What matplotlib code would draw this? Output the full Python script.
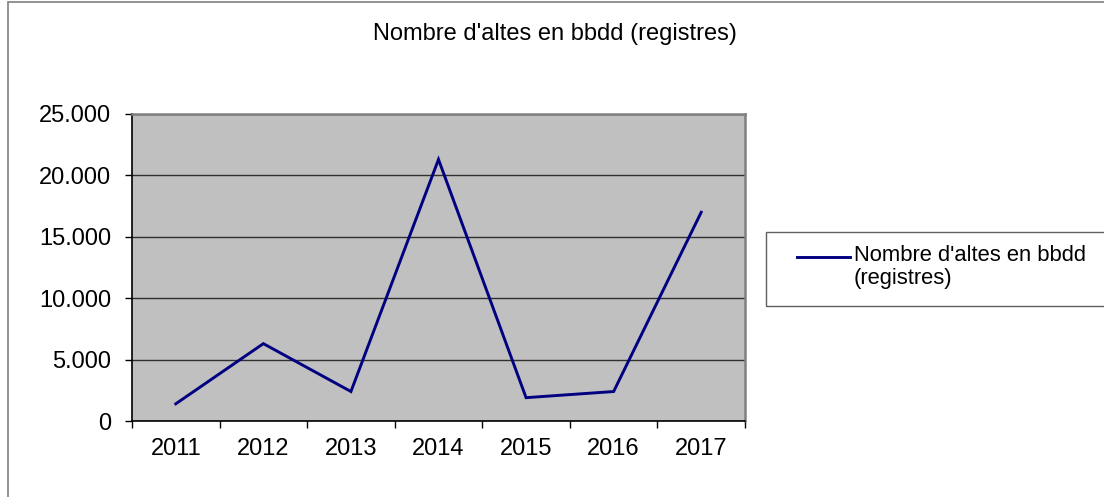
import matplotlib
matplotlib.use("Agg")
import matplotlib.pyplot as plt
from matplotlib.patches import Rectangle
from matplotlib.lines import Line2D

plt.rcParams['font.family'] = ['Liberation Sans', 'DejaVu Sans']

# data
years = ['2011', '2012', '2013', '2014', '2015', '2016', '2017']
altes = [1400, 6300, 2400, 21300, 1900, 2400, 17000]
y_ticks = [0, 5000, 10000, 15000, 20000, 25000]
y_labels = ['0', '5.000', '10.000', '15.000', '20.000', '25.000']
title = "Nombre d'altes en bbdd (registres)"
series_label = "Nombre d'altes en bbdd\n(registres)"

W, H = 1104, 497
fig = plt.figure(figsize=(W / 100, H / 100), dpi=100)
fs = 17

# outer chart frame
fig.patches.append(Rectangle((8 / W, -0.02), 1.1, 1 - 2 / H + 0.02, transform=fig.transFigure,
                             fill=False, edgecolor='#808080', linewidth=1.2))

ax = fig.add_axes([132 / W, (H - 421) / H, 613 / W, 307 / H])
ax.set_facecolor('#C0C0C0')

x = list(range(len(years)))
ax.plot(x, altes, color='#000080', linewidth=2.1, solid_joinstyle='miter')

ax.set_xlim(-0.5, len(years) - 0.5)
ax.set_ylim(0, 25000)
ax.set_yticks(y_ticks)
ax.set_yticklabels(y_labels, fontsize=fs)
ax.yaxis.grid(True, color='#303030', linewidth=1)
ax.set_axisbelow(True)

# category ticks on boundaries, labels in the middle
ax.set_xticks([i - 0.5 for i in range(len(years) + 1)])
ax.set_xticklabels([])
ax.set_xticks(x, minor=True)
ax.set_xticklabels(years, minor=True, fontsize=fs)
ax.tick_params(axis='x', which='major', direction='out', length=5, width=1, color='#000000')
ax.tick_params(axis='x', which='minor', length=0, pad=12)
ax.tick_params(axis='y', direction='out', length=5, width=1, pad=10)

for side in ['left', 'bottom']:
    ax.spines[side].set_color('#000000')
    ax.spines[side].set_linewidth(1.2)
for side in ['top', 'right']:
    ax.spines[side].set_color('#808080')
    ax.spines[side].set_linewidth(1.8)

fig.text(555 / W, 1 - 34 / H, title, ha='center', va='center', fontsize=fs)

# legend box
fig.patches.append(Rectangle((766 / W, 1 - 306 / H), 0.5, 74 / H, transform=fig.transFigure,
                             fill=False, edgecolor='#606060', linewidth=1))
fig.lines.append(Line2D([797 / W, 850 / W], [1 - 257 / H, 1 - 257 / H], transform=fig.transFigure,
                        color='#000080', linewidth=2.1))
fig.text(854 / W, 1 - 245 / H, series_label, ha='left', va='top', fontsize=15.8, linespacing=1.15)

fig.savefig('out.png', dpi=100)
